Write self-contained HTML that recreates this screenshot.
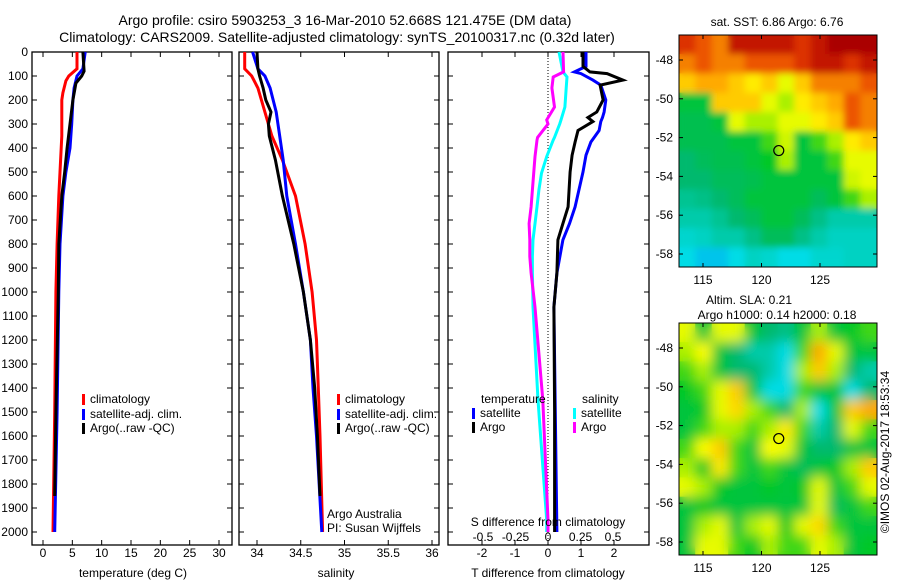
<!DOCTYPE html>
<html><head><meta charset="utf-8"><style>
body{margin:0;background:#fff;}
svg{display:block;font-family:"Liberation Sans",sans-serif;}
text{font-size:12px;fill:#000;}
</style></head><body>
<svg id="fig" width="900" height="580" viewBox="0 0 900 580" xmlns="http://www.w3.org/2000/svg">
<text x="345" y="25" text-anchor="middle" style="font-size:14px">Argo profile: csiro 5903253_3 16-Mar-2010 52.668S 121.475E (DM data)</text>
<text x="337" y="42" text-anchor="middle" style="font-size:14px">Climatology: CARS2009. Satellite-adjusted climatology: synTS_20100317.nc (0.32d later)</text>
<g id="g"></g>
</svg>
<script>
// ---- depth data ----
const tDepthsClim=[0,70,100,120,170,200,350,400,500,600,800,1000,1500,2000];
const tClim=[5.8,5.8,4.4,3.9,3.4,3.2,3.2,3.1,2.9,2.7,2.4,2.2,2.0,1.7];
const tDepthsSat=[0,70,100,150,200,300,400,500,600,800,1000,1500,2000];
const tSat=[7.2,6.8,5.8,5.3,5.1,4.9,4.6,3.9,3.4,2.9,2.7,2.4,2.0];
const tDepthsArgo=[0,80,100,130,200,300,400,500,600,800,1000,1500,1850];
const tArgo=[6.8,7.0,6.6,5.6,5.1,4.6,4.1,3.7,3.2,2.7,2.6,2.2,2.0];
const sDepths=[0,70,100,150,250,350,450,600,800,1000,1200,1400,1600,2000];
const sClim=[33.86,33.86,33.94,34.01,34.09,34.17,34.29,34.44,34.55,34.63,34.68,34.70,34.72,34.75];
const sSat=[33.95,34.01,34.09,34.15,34.22,34.26,34.30,34.34,34.44,34.53,34.61,34.64,34.68,34.74];
const sDepthsArgo=[0,70,100,150,200,250,300,350,450,600,800,1000,1200,1400,1600,1850];
const sArgo=[34.0,34.01,34.03,34.07,34.10,34.16,34.13,34.14,34.21,34.29,34.42,34.53,34.61,34.66,34.69,34.72];
const dDepthsT=[0,60,83,90,117,138,200,250,273,290,327,375,430,500,645,715,783,921,1063,1500,2000];
const dTSat=[1.15,1.15,0.8,1.0,1.36,1.6,1.75,1.7,1.65,1.6,1.55,1.3,1.15,1.06,0.82,0.65,0.45,0.27,0.18,0.22,0.27];
const dTArgo=[1.06,1.06,1.27,1.79,2.27,1.58,1.67,1.48,1.21,1.36,0.91,0.82,0.73,0.67,0.61,0.45,0.3,0.27,0.18,0.2,0.2];
const dDepthsS=[0,83,104,150,229,283,300,356,367,436,505,575,645,715,783,852,921,990,1063,1450,1950,2000];
const dSSat=[0.085,0.115,0.146,0.14,0.13,0.1,0.09,0.05,0.04,-0.01,-0.05,-0.07,-0.085,-0.1,-0.115,-0.12,-0.12,-0.118,-0.115,-0.077,-0.01,-0.01];
const dSArgo=[0.115,0.12,0.04,0.03,0.05,-0.01,0.0,-0.08,-0.085,-0.1,-0.11,-0.12,-0.13,-0.145,-0.14,-0.14,-0.13,-0.115,-0.1,-0.04,0.0,0.0];
// ---- ticks ----
const depthTicks=[0,100,200,300,400,500,600,700,800,900,1000,1100,1200,1300,1400,1500,1600,1700,1800,1900,2000];
const tTicks=[0,5,10,15,20,25,30];
const sTicks=[34,34.5,35,35.5,36];
const dTTicks=[-2,-1,0,1,2];
const dSTicks=[-0.5,-0.25,0,0.25,0.5];
const dSTickLabels=["-0.5","-0.25","0","0.25","0.5"];
const lonTicks=[115,120,125];
const latTicks=[-48,-50,-52,-54,-56,-58];
// ---- map grids (12x12, normalized colour value) ----
const sstGrid=[
[0.9,0.85,0.8,0.95,0.95,0.95,0.95,0.9,0.95,1,1,1],
[0.8,0.85,0.8,0.8,0.85,0.85,0.85,0.9,0.95,0.95,0.9,0.95],
[0.7,0.75,0.75,0.7,0.65,0.7,0.6,0.7,0.8,0.8,0.8,0.85],
[0.45,0.45,0.7,0.7,0.7,0.6,0.55,0.65,0.7,0.75,0.85,0.8],
[0.43,0.43,0.45,0.6,0.55,0.55,0.6,0.6,0.65,0.7,0.85,0.8],
[0.43,0.43,0.43,0.45,0.45,0.5,0.58,0.45,0.5,0.55,0.65,0.7],
[0.4,0.42,0.43,0.43,0.45,0.47,0.55,0.45,0.45,0.5,0.6,0.6],
[0.4,0.4,0.42,0.42,0.43,0.45,0.45,0.45,0.45,0.45,0.58,0.6],
[0.37,0.38,0.4,0.42,0.45,0.45,0.45,0.45,0.42,0.45,0.5,0.55],
[0.35,0.35,0.37,0.4,0.42,0.45,0.45,0.42,0.38,0.35,0.35,0.35],
[0.32,0.33,0.35,0.35,0.38,0.42,0.42,0.38,0.35,0.33,0.33,0.33],
[0.3,0.28,0.28,0.3,0.33,0.32,0.3,0.3,0.32,0.32,0.33,0.33]];
const slaGrid=[
[0.6,0.45,0.6,0.6,0.45,0.4,0.38,0.45,0.55,0.45,0.47,0.5],
[0.55,0.62,0.45,0.4,0.35,0.35,0.3,0.5,0.75,0.6,0.45,0.45],
[0.5,0.55,0.45,0.4,0.4,0.35,0.3,0.55,0.7,0.55,0.4,0.35],
[0.47,0.5,0.6,0.7,0.45,0.3,0.3,0.5,0.45,0.45,0.3,0.4],
[0.45,0.47,0.6,0.68,0.55,0.5,0.4,0.55,0.3,0.45,0.7,0.75],
[0.45,0.5,0.55,0.55,0.5,0.55,0.65,0.5,0.35,0.4,0.6,0.5],
[0.5,0.62,0.7,0.5,0.45,0.62,0.6,0.45,0.4,0.4,0.45,0.45],
[0.55,0.47,0.65,0.5,0.45,0.5,0.45,0.42,0.45,0.47,0.55,0.7],
[0.6,0.55,0.47,0.45,0.45,0.47,0.45,0.47,0.6,0.45,0.5,0.6],
[0.45,0.47,0.45,0.45,0.45,0.45,0.45,0.45,0.6,0.42,0.45,0.5],
[0.45,0.55,0.6,0.45,0.55,0.6,0.47,0.6,0.68,0.5,0.45,0.45],
[0.45,0.6,0.6,0.5,0.47,0.55,0.5,0.5,0.6,0.55,0.45,0.47]];
const argoLon=121.475, argoLat=-52.668;

const NS="http://www.w3.org/2000/svg";
const G=document.getElementById('g');
function el(tag,attrs,parent){const e=document.createElementNS(NS,tag);for(const k in attrs)e.setAttribute(k,attrs[k]);(parent||G).appendChild(e);return e;}
function txt(x,y,s,anchor,parent){const t=el('text',{x:x,y:y,'text-anchor':anchor||'start'},parent);t.textContent=s;return t;}
const TOP=52,BOT=545;
const yD=d=>TOP+d*0.24;
function lin(v0,p0,v1,p1){return v=>p0+(v-v0)*(p1-p0)/(v1-v0);}
const xT=lin(0,43,30,219), xS=lin(34,257,36,432), xdT=lin(0,548,2,614), xdS=lin(0,548,0.5,613);

function panel(x0,x1,name,yLabels){
  const r=el('rect',{x:x0,y:TOP,width:x1-x0,height:BOT-TOP,fill:'none',stroke:'#000','stroke-width':1.3});
  
  
  depthTicks.forEach(d=>{
    el('line',{x1:x0,x2:x0+5,y1:yD(d),y2:yD(d),stroke:'#000'});
    el('line',{x1:x1,x2:x1-5,y1:yD(d),y2:yD(d),stroke:'#000'});
    if(yLabels){const t=txt(28,yD(d)+4,String(d),'end');
      
      }
  });
}
function xTicks(vals,labels,sx,name,ly){
  vals.forEach((v,i)=>{
    el('line',{x1:sx(v),x2:sx(v),y1:TOP,y2:TOP+5,stroke:'#000'});
    el('line',{x1:sx(v),x2:sx(v),y1:BOT,y2:BOT-5,stroke:'#000'});
    const t=txt(sx(v),ly,labels[i],'middle');
    
    
  });
}
function series(depths,vals,sx,color,name,w){
  const pts=depths.map((d,i)=>sx(vals[i]).toFixed(1)+','+yD(d).toFixed(1)).join(' ');
  const p=el('polyline',{points:pts,fill:'none',stroke:color,'stroke-width':w||3,'stroke-linejoin':'miter'});
  
  
}
function legend(x,y,color,label){
  el('rect',{x:x,y:y-9,width:3,height:11,fill:color});
  const t=txt(x+8,y,label);
  
  
}
// panel 1
panel(32,232,'temperature-panel',true);
xTicks(tTicks,tTicks.map(String),xT,'temperature',557);
series(tDepthsClim,tClim,xT,'#f00','temperature-climatology-line');
series(tDepthsSat,tSat,xT,'#00f','temperature-satellite-line');
series(tDepthsArgo,tArgo,xT,'#000','temperature-argo-line');
let t=txt(133,577,'temperature (deg C)','middle');
legend(82,403,'#f00','climatology');legend(82,418,'#00f','satellite-adj. clim.');legend(82,432,'#000','Argo(..raw -QC)');
// panel 2
panel(239,439,'salinity-panel',false);
xTicks(sTicks,sTicks.map(String),xS,'salinity',557);
series(sDepths,sClim,xS,'#f00','salinity-climatology-line');
series(sDepths,sSat,xS,'#00f','salinity-satellite-line');
series(sDepthsArgo,sArgo,xS,'#000','salinity-argo-line');
t=txt(336,577,'salinity','middle');
legend(337,403,'#f00','climatology');legend(337,418,'#00f','satellite-adj. clim.');legend(337,432,'#000','Argo(..raw -QC)');
t=txt(327,518,'Argo Australia');
t=txt(327,532,'PI: Susan Wijffels');
// panel 3
panel(448,649,'difference-panel',false);
xTicks(dTTicks,dTTicks.map(String),xdT,'t-difference',557);
el('line',{x1:xdT(0),x2:xdT(0),y1:TOP,y2:BOT,stroke:'#000','stroke-dasharray':'1,2'});
series(dDepthsS,dSSat,xdS,'#0ff','s-diff-satellite-line');
series(dDepthsS,dSArgo,xdS,'#f0f','s-diff-argo-line');
series(dDepthsT,dTSat,xdT,'#00f','t-diff-satellite-line');
series(dDepthsT,dTArgo,xdT,'#000','t-diff-argo-line');
dSTicks.forEach((v,i)=>{t=txt(xdS(v),541,dSTickLabels[i],'middle');});
t=txt(548,526,'S difference from climatology','middle');
t=txt(548,577,'T difference from climatology','middle');
t=txt(481,403,'temperature');
t=txt(582,403,'salinity');
legend(472,417,'#00f','satellite');legend(472,431,'#000','Argo');legend(573,417,'#0ff','satellite');legend(573,431,'#f0f','Argo');

// maps
const stops=[[0.2,[0,100,255]],[0.3,[0,220,230]],[0.4,[0,185,110]],[0.47,[0,200,40]],[0.55,[170,240,0]],[0.62,[255,255,0]],[0.75,[255,170,0]],[0.88,[230,60,0]],[1,[170,0,0]]];
function cmap(v){if(v<=stops[0][0])return 'rgb('+stops[0][1]+')';
  for(let i=1;i<stops.length;i++){if(v<=stops[i][0]){const a=stops[i-1],b=stops[i],f=(v-a[0])/(b[0]-a[0]);
    return 'rgb('+a[1].map((c,k)=>Math.round(c+(b[1][k]-c)*f)).join(',')+')';}}
  return 'rgb('+stops[stops.length-1][1]+')';}
const defs=el('defs',{});
function map(top,grid,name,blur){
  const L=679,R=877,B=top+232;
  const xL=lin(115,703,125,820), yL=lin(-48,top+25,-58,top+219);
  const id='clip'+name;
  const cp=el('clipPath',{id:id},defs);el('rect',{x:L,y:top,width:R-L,height:B-top},cp);
  const f=el('filter',{id:'f'+name,x:'-5%',y:'-5%',width:'110%',height:'110%'},defs);
  el('feGaussianBlur',{stdDeviation:blur},f);
  const cw=(R-L)/grid[0].length, ch=(B-top)/grid.length;
  const g1=el('g',{'clip-path':'url(#'+id+')'});
  
  
  [null,'url(#f'+name+')'].forEach(flt=>{
    const g2=el('g',flt?{filter:flt}:{},g1);
    grid.forEach((row,r)=>row.forEach((v,c)=>{
      const cell=el('rect',{x:L+c*cw-0.3,y:top+r*ch-0.3,width:cw+0.6,height:ch+0.6,fill:cmap(v)},g2);
      
      
    }));
  });
  el('rect',{x:L,y:top,width:R-L,height:B-top,fill:'none',stroke:'#000','stroke-width':1});
  lonTicks.forEach(v=>{el('line',{x1:xL(v),x2:xL(v),y1:top,y2:top+4,stroke:'#000'});el('line',{x1:xL(v),x2:xL(v),y1:B,y2:B-4,stroke:'#000'});
    const tt=txt(xL(v),B+17,String(v),'middle');});
  latTicks.forEach(v=>{el('line',{x1:L,x2:L+4,y1:yL(v),y2:yL(v),stroke:'#000'});el('line',{x1:R,x2:R-4,y1:yL(v),y2:yL(v),stroke:'#000'});
    const tt=txt(673,yL(v)+4,String(v),'end');});
  const c=el('circle',{cx:xL(argoLon),cy:yL(argoLat),r:5,fill:'none',stroke:'#000','stroke-width':1.2});
  
  
}
map(35,sstGrid,'sst-map',3.5);
map(323,slaGrid,'sla-map',6);
t=txt(777,26,'sat. SST: 6.86 Argo: 6.76','middle');
t=txt(749,304,'Altim. SLA: 0.21','middle');
t=txt(777,319,'Argo h1000: 0.14 h2000: 0.18','middle');
t=txt(0,0,'©IMOS 02-Aug-2017 18:53:34','middle');t.setAttribute('transform','translate(889,452) rotate(-90)');

</script>
</body></html>
